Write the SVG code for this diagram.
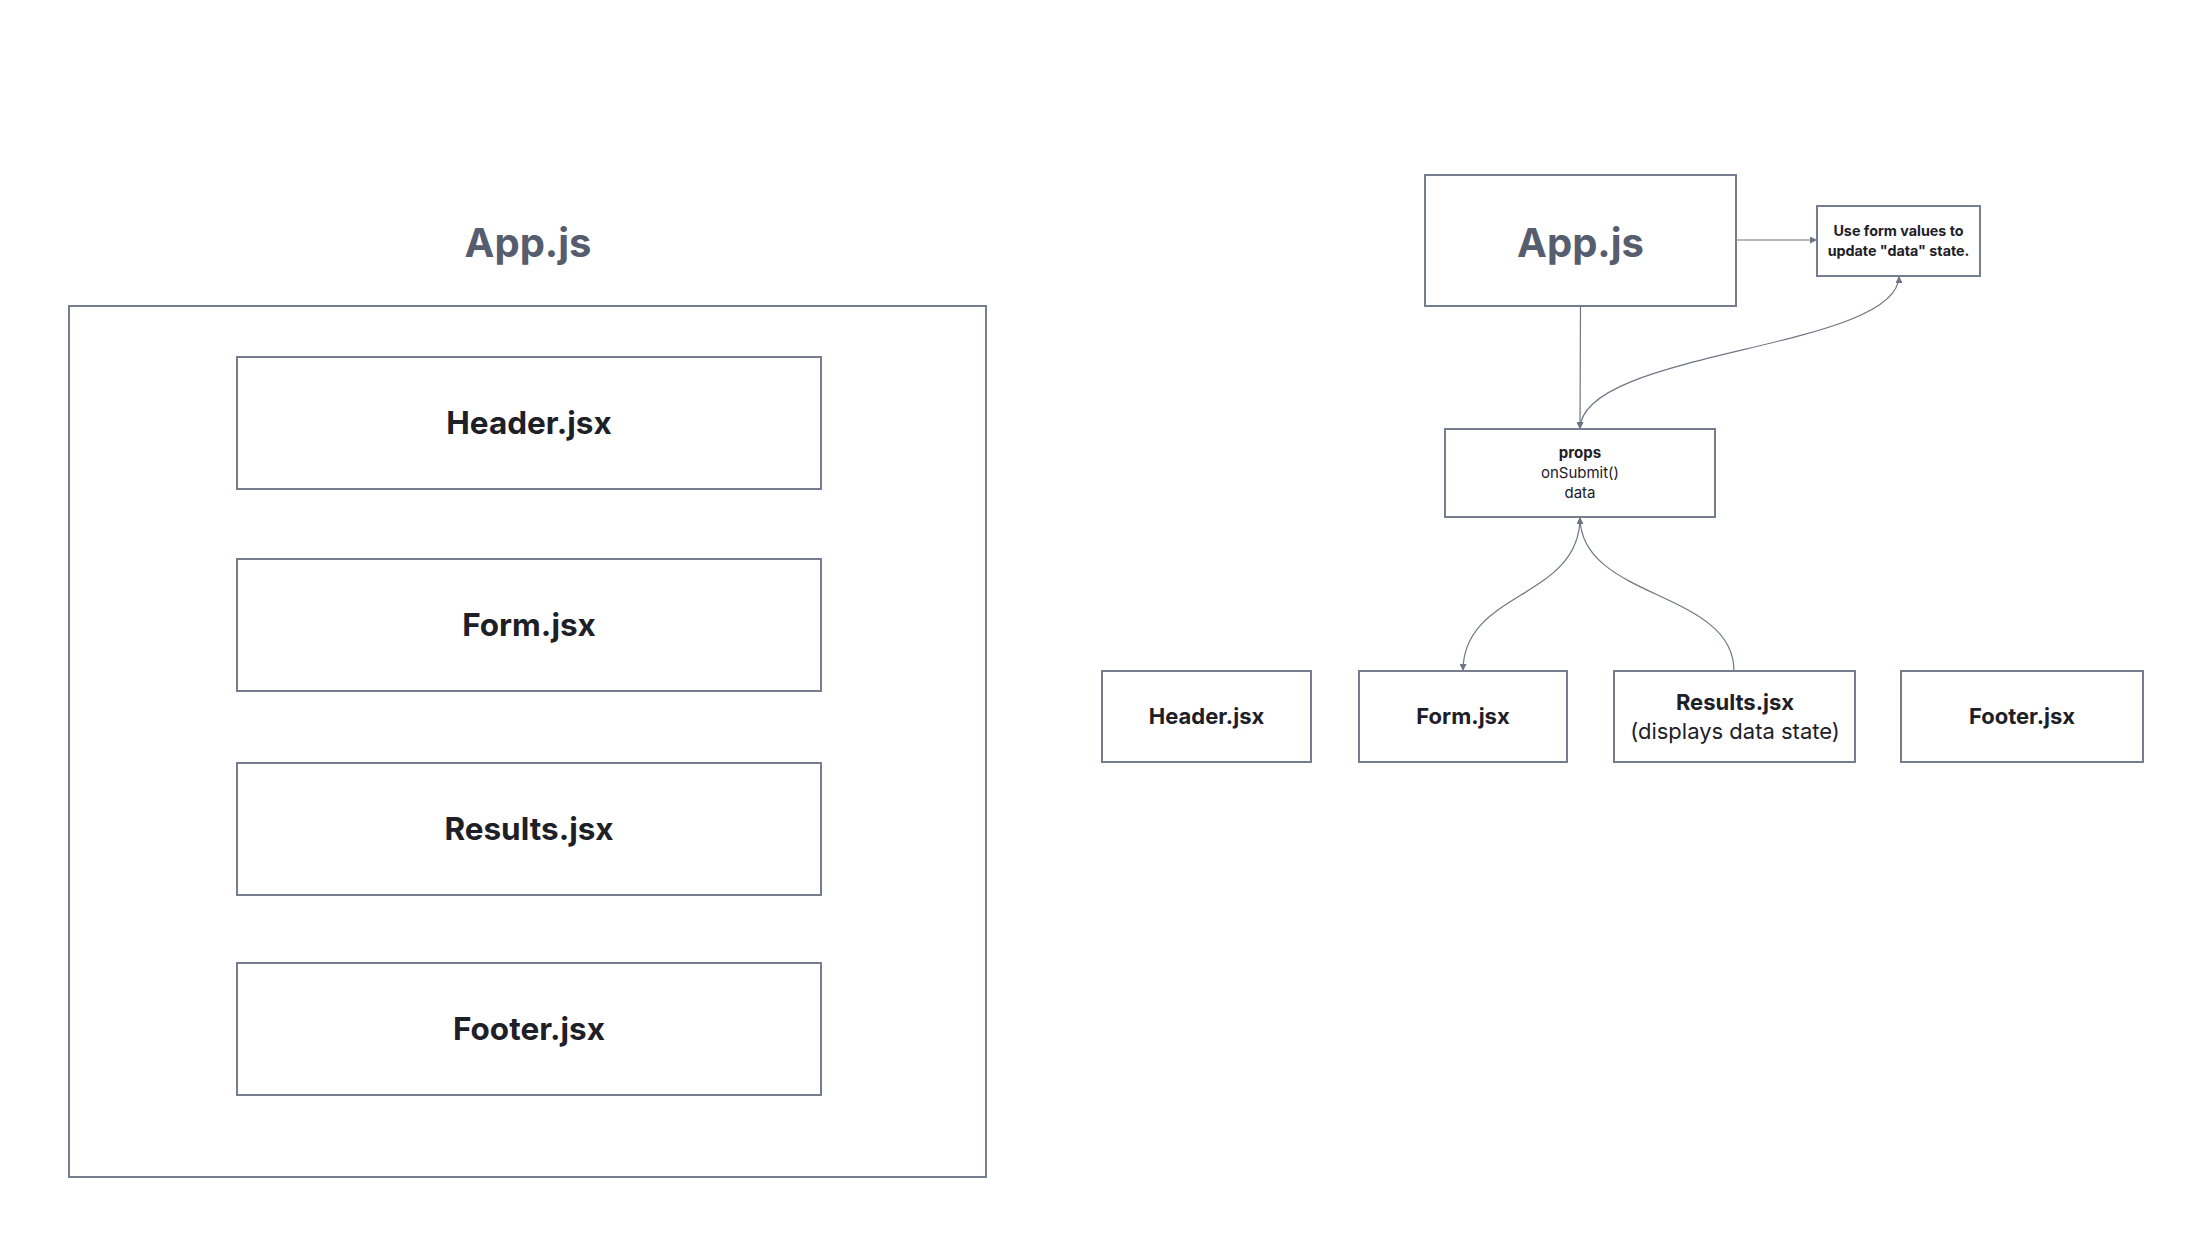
<svg xmlns="http://www.w3.org/2000/svg" width="2202" height="1254" viewBox="0 0 2202 1254">
  <style>
    .box { fill: #ffffff; stroke: #767d8e; stroke-width: 2; }
    .title { font-family: Inter, "Liberation Sans", sans-serif; font-weight: 700; fill: #555d6e; text-anchor: middle; }
    .lbl { font-family: Inter, "Liberation Sans", sans-serif; fill: #1e2027; text-anchor: middle; }
    .b { font-weight: 700; }
    .wire { fill: none; stroke: #6e7585; stroke-width: 1.2; }
  </style>
  <defs>
    <marker id="arrow" viewBox="0 0 10 10" refX="10" refY="5" markerWidth="7" markerHeight="7" markerUnits="userSpaceOnUse" orient="auto-start-reverse">
      <path d="M0,0 L10,5 L0,10 z" fill="#6e7585"/>
    </marker>
  </defs>
  <rect width="2202" height="1254" fill="#ffffff"/>

  <!-- Nested layout view -->
  <g id="layout-title">
    <text class="title" x="528" y="257" font-size="40">App.js</text>
  </g>
  <g id="layout-app">
    <rect class="box" x="69" y="306" width="917" height="871"/>
  </g>
  <g id="layout-header">
    <rect class="box" x="237" y="357" width="584" height="132"/>
    <text class="lbl b" x="529" y="434" font-size="31.5">Header.jsx</text>
  </g>
  <g id="layout-form">
    <rect class="box" x="237" y="559" width="584" height="132"/>
    <text class="lbl b" x="529" y="636" font-size="31.5">Form.jsx</text>
  </g>
  <g id="layout-results">
    <rect class="box" x="237" y="763" width="584" height="132"/>
    <text class="lbl b" x="529" y="840" font-size="31.5">Results.jsx</text>
  </g>
  <g id="layout-footer">
    <rect class="box" x="237" y="963" width="584" height="132"/>
    <text class="lbl b" x="529" y="1040" font-size="31.5">Footer.jsx</text>
  </g>

  <!-- Data-flow view: connectors -->
  <g id="connectors">
    <path class="wire" d="M1736,240 L1817,240" marker-end="url(#arrow)"/>
    <path class="wire" d="M1580.5,306 L1580,429" marker-end="url(#arrow)"/>
    <path class="wire" d="M1580,429 C1580,350 1899,350 1899,276" marker-start="url(#arrow)" marker-end="url(#arrow)"/>
    <path class="wire" d="M1580,517 C1580,600 1463,590 1463,671" marker-start="url(#arrow)" marker-end="url(#arrow)"/>
    <path class="wire" d="M1734,671 C1734,590 1580,600 1580,517"/>
  </g>

  <!-- Data-flow view: nodes -->
  <g id="flow-app">
    <rect class="box" x="1425" y="175" width="311" height="131"/>
    <text class="title" x="1580.5" y="257" font-size="40">App.js</text>
  </g>
  <g id="flow-state-note">
    <rect class="box" x="1817" y="206" width="163" height="70"/>
    <text class="lbl b" x="1898.5" y="236" font-size="14.3">Use form values to</text>
    <text class="lbl b" x="1898.5" y="256" font-size="14.3">update "data" state.</text>
  </g>
  <g id="flow-props">
    <rect class="box" x="1445" y="429" width="270" height="88"/>
    <text class="lbl b" x="1580" y="458" font-size="15">props</text>
    <text class="lbl" x="1580" y="478" font-size="15">onSubmit()</text>
    <text class="lbl" x="1580" y="498" font-size="15">data</text>
  </g>
  <g id="flow-header">
    <rect class="box" x="1102" y="671" width="209" height="91"/>
    <text class="lbl b" x="1206.5" y="724" font-size="22">Header.jsx</text>
  </g>
  <g id="flow-form">
    <rect class="box" x="1359" y="671" width="208" height="91"/>
    <text class="lbl b" x="1463" y="724" font-size="22">Form.jsx</text>
  </g>
  <g id="flow-results">
    <rect class="box" x="1614" y="671" width="241" height="91"/>
    <text class="lbl b" x="1735" y="710" font-size="22">Results.jsx</text>
    <text class="lbl" x="1735" y="739" font-size="22">(displays data state)</text>
  </g>
  <g id="flow-footer">
    <rect class="box" x="1901" y="671" width="242" height="91"/>
    <text class="lbl b" x="2022" y="724" font-size="22">Footer.jsx</text>
  </g>
</svg>
